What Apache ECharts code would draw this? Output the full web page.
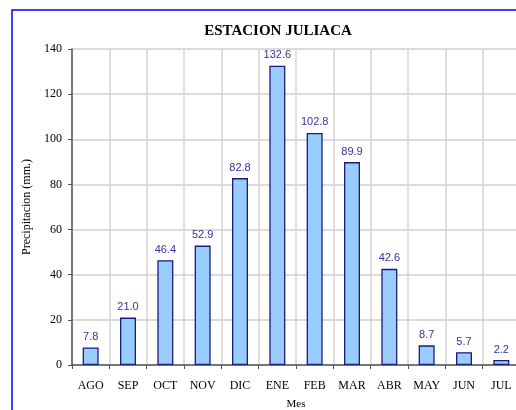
<!DOCTYPE html>
<html lang="es" style="height:100%">
<head>
    <meta charset="UTF-8">
    <title>Estacion Juliaca</title>
    <script src="https://cdn.jsdelivr.net/npm/echarts@6/dist/echarts.min.js"></script>
</head>
<body style="height:100%;margin:0">
<div id="main" style="width:516px;height:410px;"></div>
<script type="text/javascript">
    // datos
    var meses = ['AGO', 'SEP', 'OCT', 'NOV', 'DIC', 'ENE', 'FEB', 'MAR', 'ABR', 'MAY', 'JUN', 'JUL'];
    var precipitacion = [7.8, 21.0, 46.4, 52.9, 82.8, 132.6, 102.8, 89.9, 42.6, 8.7, 5.7, 2.2];

    var serif = '"Liberation Serif", "DejaVu Serif", serif';
    var myChart = echarts.init(document.getElementById('main'));
    var option = {
        animation: false,
        backgroundColor: '#fff',
        title: {
            text: 'ESTACION JULIACA',
            left: 273,
            top: 19,
            textAlign: 'center',
            textStyle: {fontFamily: serif, fontSize: 15, fontWeight: 'bold', color: '#000'}
        },
        graphic: [{
            type: 'rect',
            shape: {x: 12, y: 10, width: 540, height: 430},
            style: {fill: 'none', stroke: '#0000ff', lineWidth: 1.5},
            silent: true
        }],
        grid: {left: 72, top: 49, right: -4, bottom: 45, containLabel: false, outerBoundsMode: 'none'},
        xAxis: {
            type: 'category',
            data: meses,
            name: 'Mes',
            nameLocation: 'middle',
            nameGap: 34,
            nameTextStyle: {fontFamily: serif, fontSize: 11, color: '#000'},
            axisLine: {lineStyle: {color: '#555', width: 1.5}},
            axisTick: {show: true, length: 4, lineStyle: {color: '#555'}},
            axisLabel: {fontFamily: serif, fontSize: 12, color: '#000', margin: 15},
            splitLine: {show: true, lineStyle: {color: '#d4d4d4', width: 1.5}}
        },
        yAxis: {
            type: 'value',
            min: 0,
            max: 140,
            interval: 20,
            name: 'Precipitacion (mm.)',
            nameLocation: 'middle',
            nameGap: 38,
            nameTextStyle: {fontFamily: serif, fontSize: 12, color: '#000'},
            axisLine: {show: true, lineStyle: {color: '#555', width: 1.5}},
            axisTick: {show: true, length: 4, lineStyle: {color: '#555'}},
            axisLabel: {fontFamily: serif, fontSize: 12, color: '#000', margin: 10},
            splitLine: {show: true, lineStyle: {color: '#cfcfcf', width: 1.5}}
        },
        series: [{
            name: 'Precipitacion',
            type: 'bar',
            data: precipitacion,
            barWidth: 16,
            itemStyle: {color: '#99ccff', borderColor: '#1a1a80', borderWidth: 1.3},
            label: {
                show: true,
                position: 'top',
                distance: 5,
                fontFamily: 'Liberation Sans, Arial, sans-serif',
                fontSize: 11,
                color: '#333399',
                formatter: function (p) { return p.value.toFixed(1); }
            }
        }]
    };
    myChart.setOption(option);
</script>
</body>
</html>
